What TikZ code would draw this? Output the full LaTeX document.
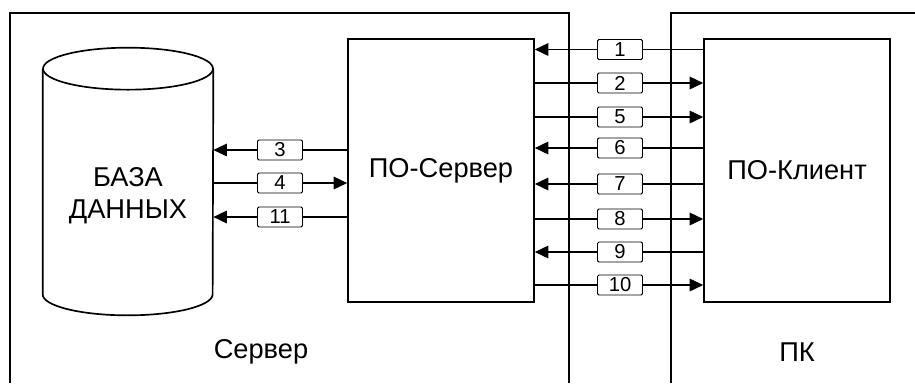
\documentclass[tikz,border=0pt]{standalone}
\usepackage{fontspec}
\setmainfont{Liberation Sans}
\usetikzlibrary{arrows.meta}

\begin{document}
\begin{tikzpicture}[
  x=0.02cm, y=-0.02cm,
  font=\fontsize{15.5}{18}\selectfont,
  every node/.style={align=center},
  blk/.style={draw, line width=0.95pt, inner sep=0pt,
              minimum width=3.72cm, minimum height=5.26cm},
  dbs/.style={inner sep=0pt, minimum width=3.4cm, minimum height=4.5cm},
  lab/.style={draw, fill=white, line width=0.55pt, inner sep=0pt,
              rounded corners=0.8pt, minimum width=0.9cm, minimum height=0.4cm,
              font=\fontsize{11.5}{11}\selectfont},
  fl/.style={-{Triangle[length=2.7mm,width=2.5mm]}, line width=0.95pt},
  frame/.style={line width=0.95pt},
]
\useasboundingbox (0,0) rectangle (915,383);

% ---- the two machines ----
\draw[frame] (10,383) -- (10,13) -- (569,13) -- (569,383);
\draw[frame] (671,383) -- (671,13) -- (915,13);
\node (hsrv) at (261,352) {Сервер};
\node (hpc) at (797,352) {ПК};

% ---- database (drawn round an empty node) ----
\node[dbs] (db) at (128,181.5) {};
\draw[frame] (db.north west) -- (db.south west)
  arc[start angle=180, end angle=360, x radius=1.7cm, y radius=0.42cm]
  -- (db.north east);
\draw[frame] (db.north) ellipse [x radius=1.7cm, y radius=0.42cm];
\node (dbt) at (128,196) {БАЗА\\ДАННЫХ};

% ---- programs ----
\node[blk] (srv) at (441,170.5) {ПО-Сервер};
\node[blk] (cli) at (797,170.5) {ПО-Клиент};

% ---- server <-> database ----
\foreach \n/\y/\a/\b in {3/150/srv.west/db.east, 4/183/db.east/srv.west,
                         11/217/srv.west/db.east}{
  \node[lab] (n\n) at (280,\y) {\n};
  \draw[fl] (\a |- n\n) -- (n\n) -- (\b |- n\n);
}

% ---- client <-> server ----
\foreach \n/\y/\a/\b in {1/49.5/cli.west/srv.east, 2/83/srv.east/cli.west,
                         5/117/srv.east/cli.west, 6/148/cli.west/srv.east,
                         7/184/cli.west/srv.east, 8/219/srv.east/cli.west,
                         9/252/cli.west/srv.east, 10/285/srv.east/cli.west}{
  \node[lab] (n\n) at (620,\y) {\n};
  \draw[fl] (\a |- n\n) -- (n\n) -- (\b |- n\n);
}
\end{tikzpicture}
\end{document}
